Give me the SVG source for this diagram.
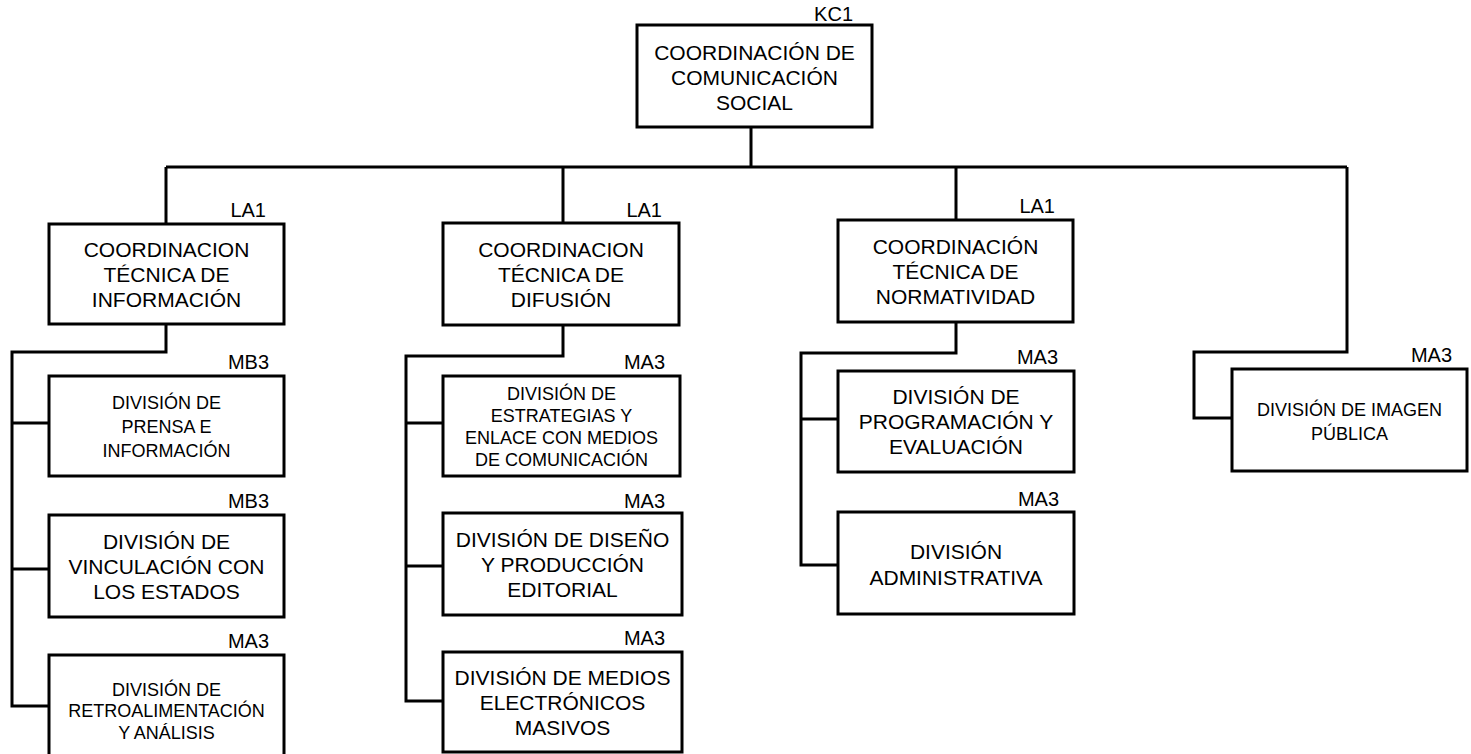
<svg xmlns="http://www.w3.org/2000/svg" width="1471" height="754" viewBox="0 0 1471 754">
<style>
.box{fill:#fff;stroke:#000;stroke-width:3}
.con{fill:none;stroke:#000;stroke-width:3}
text{font-family:"Liberation Sans",Arial,sans-serif;fill:#000}
.t{font-size:21px;text-anchor:middle}
.s{font-size:18px;text-anchor:middle}
.lbl{font-size:20px;text-anchor:end}
</style>
<rect width="1471" height="754" fill="#fff"/>
<g id="connectors">
<path class="con" d="M751 127V167M166 167H1347M166 167V224M563 167V223M956 167V220M1347 167V352H1194V418H1232"/>
<path class="con" d="M166 324V352H12V706H49M12 423H49M12 569H49"/>
<path class="con" d="M563 325V356H406V701H443M406 423H443M406 566H443"/>
<path class="con" d="M956 322V353H801V565H838M801 419H838"/>
</g>
<g id="kc1">
<rect class="box" x="637" y="25" width="235" height="102"/>
<text class="lbl" x="853" y="21">KC1</text>
<text class="t" x="754.5" y="60">COORDINACIÓN DE</text>
<text class="t" x="754.5" y="85">COMUNICACIÓN</text>
<text class="t" x="754.5" y="110">SOCIAL</text>
</g>
<g id="ct-informacion">
<rect class="box" x="49" y="224" width="235" height="100"/>
<text class="lbl" x="266" y="217">LA1</text>
<text class="t" x="166.5" y="256.5">COORDINACION</text>
<text class="t" x="166.5" y="281.5">TÉCNICA DE</text>
<text class="t" x="166.5" y="306.5">INFORMACIÓN</text>
</g>
<g id="div-prensa">
<rect class="box" x="49" y="376" width="235" height="100"/>
<text class="lbl" x="269" y="369">MB3</text>
<text class="s" x="166.5" y="408.5">DIVISIÓN DE</text>
<text class="s" x="166.5" y="432.5">PRENSA E</text>
<text class="s" x="166.5" y="456.5">INFORMACIÓN</text>
</g>
<g id="div-vinculacion">
<rect class="box" x="49" y="515" width="235" height="102"/>
<text class="lbl" x="269" y="508">MB3</text>
<text class="t" x="166.5" y="548.5">DIVISIÓN DE</text>
<text class="t" x="166.5" y="573.5">VINCULACIÓN CON</text>
<text class="t" x="166.5" y="598.5">LOS ESTADOS</text>
</g>
<g id="div-retro">
<rect class="box" x="49" y="655" width="235" height="110"/>
<text class="lbl" x="269" y="648">MA3</text>
<text class="s" x="166.5" y="695.5">DIVISIÓN DE</text>
<text class="s" x="166.5" y="717">RETROALIMENTACIÓN</text>
<text class="s" x="166.5" y="738.5">Y ANÁLISIS</text>
</g>
<g id="ct-difusion">
<rect class="box" x="443" y="223" width="236" height="102"/>
<text class="lbl" x="662" y="217">LA1</text>
<text class="t" x="561" y="256.5">COORDINACION</text>
<text class="t" x="561" y="281.5">TÉCNICA DE</text>
<text class="t" x="561" y="306.5">DIFUSIÓN</text>
</g>
<g id="div-estrategias">
<rect class="box" x="443" y="376" width="237" height="100"/>
<text class="lbl" x="665" y="369">MA3</text>
<text class="s" x="561.5" y="399.5">DIVISIÓN DE</text>
<text class="s" x="561.5" y="421.5">ESTRATEGIAS Y</text>
<text class="s" x="561.5" y="443.5">ENLACE CON MEDIOS</text>
<text class="s" x="561.5" y="465.5">DE COMUNICACIÓN</text>
</g>
<g id="div-diseno">
<rect class="box" x="443" y="513" width="239" height="102"/>
<text class="lbl" x="665" y="508">MA3</text>
<text class="t" x="562.5" y="546.5">DIVISIÓN DE DISEÑO</text>
<text class="t" x="562.5" y="571.5">Y PRODUCCIÓN</text>
<text class="t" x="562.5" y="596.5">EDITORIAL</text>
</g>
<g id="div-medios">
<rect class="box" x="443" y="652" width="239" height="100"/>
<text class="lbl" x="665" y="645">MA3</text>
<text class="t" x="562.5" y="684.5">DIVISIÓN DE MEDIOS</text>
<text class="t" x="562.5" y="709.5">ELECTRÓNICOS</text>
<text class="t" x="562.5" y="734.5">MASIVOS</text>
</g>
<g id="ct-normatividad">
<rect class="box" x="838" y="220" width="235" height="102"/>
<text class="lbl" x="1055" y="213">LA1</text>
<text class="t" x="955.5" y="253.5">COORDINACIÓN</text>
<text class="t" x="955.5" y="278.5">TÉCNICA DE</text>
<text class="t" x="955.5" y="303.5">NORMATIVIDAD</text>
</g>
<g id="div-programacion">
<rect class="box" x="838" y="371" width="236" height="101"/>
<text class="lbl" x="1058" y="364">MA3</text>
<text class="t" x="956" y="404">DIVISIÓN DE</text>
<text class="t" x="956" y="429">PROGRAMACIÓN Y</text>
<text class="t" x="956" y="454">EVALUACIÓN</text>
</g>
<g id="div-administrativa">
<rect class="box" x="838" y="512" width="236" height="102"/>
<text class="lbl" x="1059" y="506">MA3</text>
<text class="t" x="956" y="559">DIVISIÓN</text>
<text class="t" x="956" y="584.5">ADMINISTRATIVA</text>
</g>
<g id="div-imagen">
<rect class="box" x="1232" y="369" width="235" height="102"/>
<text class="lbl" x="1452" y="362">MA3</text>
<text class="s" x="1349.5" y="416">DIVISIÓN DE IMAGEN</text>
<text class="s" x="1349.5" y="439.5">PÚBLICA</text>
</g>
</svg>
